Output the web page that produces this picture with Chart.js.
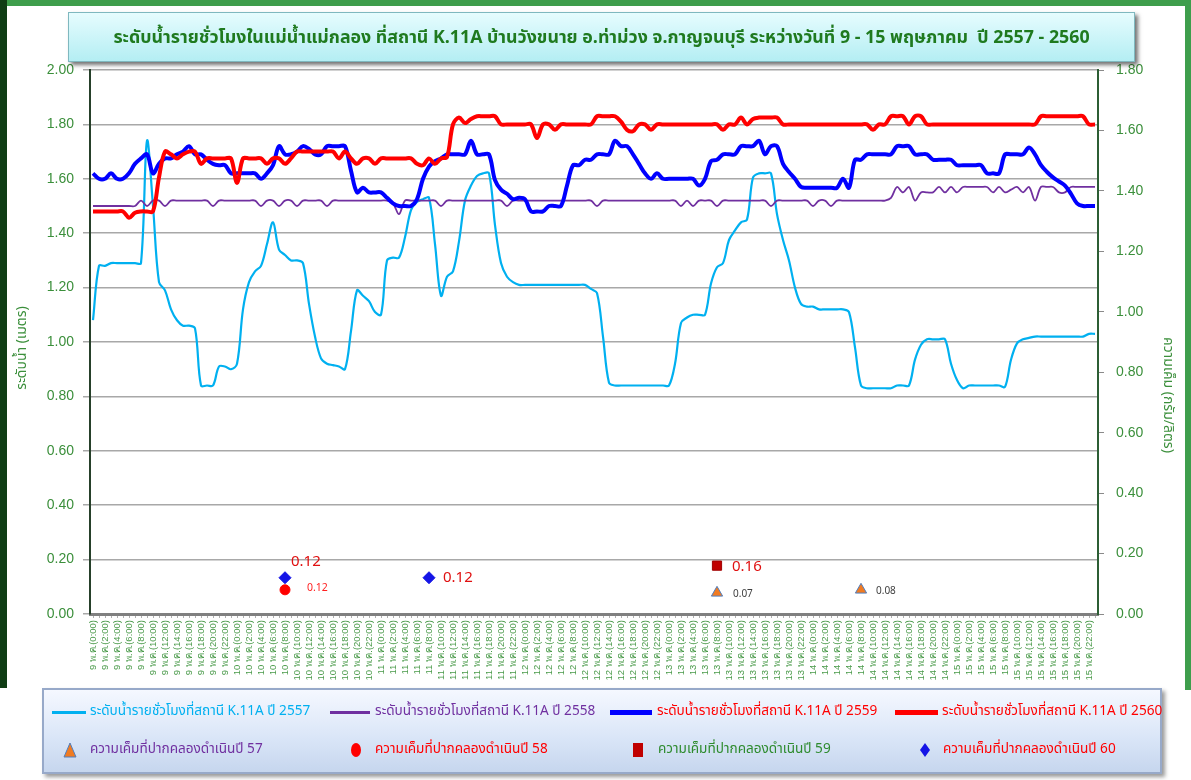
<!DOCTYPE html>
<html lang="th">
<head>
<meta charset="utf-8">
<title>ระดับน้ำรายชั่วโมง K.11A</title>
<script src="https://cdn.jsdelivr.net/npm/chart.js@4.4.1/dist/chart.umd.min.js"></script>
<style>
    html, body { margin: 0; padding: 0; background: #fff; }
    body {
        width: 1191px; height: 780px; position: relative; overflow: hidden;
        font-family: Tahoma, "Noto Sans Thai", "Noto Sans", "DejaVu Sans", sans-serif;
    }
    #frame-left { position: absolute; left: 0; top: 0; width: 7px; height: 688px; background: #0f3d14; }
    #frame-top { position: absolute; left: 0; top: 0; width: 1191px; height: 6px; background: #3e9e4c; }
    #frame-right { position: absolute; right: 0; top: 0; width: 6px; height: 690px; background: #3e9e4c; }
    #chart-box { position: absolute; left: 0; top: 0; width: 1191px; height: 690px; }
    #title {
        position: absolute; left: 68px; top: 12px; width: 1065px; height: 48px;
        background: linear-gradient(#e6fcfe, #b4eef3);
        border: 1px solid #7fb8bf;
        box-shadow: 3px 3px 4px rgba(0, 0, 0, 0.55);
        color: #1f7a1f; font-weight: bold; font-size: 17.8px;
        display: flex; align-items: center; justify-content: center;
    }
    #legend {
        position: absolute; left: 42px; top: 688px; width: 1116px; height: 82px;
        background: linear-gradient(#f5f8ff, #d9e5f7 60%, #c6d6ee);
        border: 2px solid #97a9c9;
        box-shadow: 3px 3px 4px rgba(0, 0, 0, 0.4);
    }
    .lg-abs { position: absolute; }
    .lg-text { position: absolute; font-size: 13.6px; white-space: nowrap; line-height: 20px; }
</style>
</head>
<body>
<div id="frame-top"></div>
<div id="frame-left"></div>
<div id="frame-right"></div>
<div id="chart-box"><canvas id="chart" width="1191" height="690"></canvas></div>
<div id="title">ระดับน้ำรายชั่วโมงในแม่น้ำแม่กลอง ที่สถานี K.11A บ้านวังขนาย อ.ท่าม่วง จ.กาญจนบุรี ระหว่างวันที่ 9 - 15 พฤษภาคม&nbsp; ปี 2557 - 2560</div>
<div id="legend"></div>
<script>
// วันที่ (พ.ค.) และชั่วโมง
const days = [9, 10, 11, 12, 13, 14, 15];
const hours = [0, 1, 2, 3, 4, 5, 6, 7, 8, 9, 10, 11, 12, 13, 14, 15, 16, 17, 18, 19, 20, 21, 22, 23];
const labels = [];
days.forEach(d => hours.forEach(h => labels.push(d + ' พ.ค.(' + h + ':00)')));

// ระดับน้ำ (เมตร) ปี 2557
const level2557 = [
    1.08, 1.28, 1.28, 1.29, 1.29, 1.29, 1.29, 1.29, 1.29, 1.74, 1.50, 1.22,
    1.19, 1.12, 1.08, 1.06, 1.06, 1.05, 0.84, 0.84, 0.84, 0.91, 0.91, 0.90,
    0.92, 1.12, 1.22, 1.26, 1.28, 1.36, 1.44, 1.34, 1.32, 1.30, 1.30, 1.29,
    1.14, 1.02, 0.94, 0.92, 0.915, 0.91, 0.90, 1.04, 1.19, 1.17, 1.15, 1.11,
    1.10, 1.30, 1.31, 1.31, 1.385, 1.485, 1.515, 1.525, 1.53, 1.36, 1.17, 1.24,
    1.26, 1.37, 1.52, 1.575, 1.61, 1.62, 1.62, 1.43, 1.29, 1.24, 1.22, 1.21,
    1.21, 1.21, 1.21, 1.21, 1.21, 1.21, 1.21, 1.21, 1.21, 1.21, 1.21, 1.195,
    1.18, 1.02, 0.85, 0.84, 0.84, 0.84, 0.84, 0.84, 0.84, 0.84, 0.84, 0.84,
    0.84, 0.92, 1.07, 1.09, 1.10, 1.10, 1.10, 1.215, 1.275, 1.29, 1.375, 1.41,
    1.44, 1.45, 1.605, 1.62, 1.62, 1.62, 1.47, 1.375, 1.30, 1.20, 1.14, 1.13,
    1.13, 1.12, 1.12, 1.12, 1.12, 1.12, 1.11, 0.98, 0.84, 0.83, 0.83, 0.83,
    0.83, 0.83, 0.84, 0.84, 0.84, 0.935, 0.99, 1.01, 1.01, 1.01, 1.01, 0.92,
    0.86, 0.83, 0.84, 0.84, 0.84, 0.84, 0.84, 0.84, 0.835, 0.935, 0.995, 1.01,
    1.015, 1.02, 1.02, 1.02, 1.02, 1.02, 1.02, 1.02, 1.02, 1.02, 1.03, 1.03
];
// ปี 2558
const level2558 = [
    1.50, 1.50, 1.50, 1.50, 1.50, 1.50, 1.50, 1.50, 1.52, 1.50, 1.52, 1.52,
    1.50, 1.52, 1.52, 1.52, 1.52, 1.52, 1.52, 1.52, 1.50, 1.52, 1.52, 1.52,
    1.52, 1.52, 1.52, 1.52, 1.50, 1.52, 1.52, 1.50, 1.52, 1.52, 1.50, 1.52,
    1.52, 1.52, 1.52, 1.50, 1.52, 1.52, 1.52, 1.52, 1.52, 1.52, 1.52, 1.52,
    1.52, 1.52, 1.51, 1.47, 1.52, 1.52, 1.52, 1.52, 1.52, 1.52, 1.50, 1.52,
    1.52, 1.52, 1.52, 1.52, 1.52, 1.52, 1.52, 1.52, 1.52, 1.50, 1.52, 1.52,
    1.52, 1.52, 1.52, 1.52, 1.52, 1.52, 1.52, 1.52, 1.52, 1.52, 1.52, 1.52,
    1.50, 1.52, 1.52, 1.52, 1.52, 1.52, 1.52, 1.52, 1.52, 1.52, 1.52, 1.52,
    1.52, 1.52, 1.50, 1.52, 1.50, 1.52, 1.52, 1.52, 1.50, 1.52, 1.52, 1.52,
    1.52, 1.52, 1.52, 1.52, 1.52, 1.50, 1.52, 1.52, 1.52, 1.52, 1.52, 1.52,
    1.50, 1.52, 1.52, 1.50, 1.52, 1.52, 1.52, 1.52, 1.52, 1.52, 1.52, 1.52,
    1.52, 1.53, 1.57, 1.55, 1.57, 1.52, 1.55, 1.55, 1.55, 1.57, 1.55, 1.57,
    1.55, 1.57, 1.57, 1.57, 1.57, 1.57, 1.55, 1.57, 1.55, 1.56, 1.57, 1.55,
    1.57, 1.52, 1.57, 1.57, 1.57, 1.55, 1.55, 1.57, 1.57, 1.57, 1.57, 1.57
];
// ปี 2559
const level2559 = [
    1.62, 1.60, 1.60, 1.62, 1.60, 1.60, 1.62, 1.655, 1.675, 1.69, 1.62, 1.655,
    1.675, 1.675, 1.69, 1.70, 1.72, 1.69, 1.69, 1.67, 1.655, 1.65, 1.65, 1.62,
    1.62, 1.62, 1.62, 1.62, 1.60, 1.62, 1.65, 1.72, 1.69, 1.69, 1.70, 1.72,
    1.71, 1.69, 1.69, 1.72, 1.72, 1.72, 1.72, 1.63, 1.55, 1.567, 1.55, 1.55,
    1.55, 1.53, 1.51, 1.50, 1.50, 1.50, 1.525, 1.60, 1.645, 1.665, 1.675, 1.69,
    1.69, 1.69, 1.69, 1.74, 1.69, 1.69, 1.69, 1.595, 1.56, 1.545, 1.525, 1.53,
    1.525, 1.48, 1.48, 1.48, 1.50, 1.50, 1.50, 1.575, 1.65, 1.65, 1.67, 1.67,
    1.69, 1.69, 1.69, 1.74, 1.72, 1.72, 1.69, 1.655, 1.62, 1.60, 1.62, 1.60,
    1.60, 1.60, 1.60, 1.60, 1.60, 1.575, 1.60, 1.665, 1.67, 1.69, 1.69, 1.69,
    1.72, 1.72, 1.72, 1.74, 1.69, 1.72, 1.72, 1.655, 1.625, 1.60, 1.57, 1.567,
    1.567, 1.567, 1.567, 1.567, 1.567, 1.60, 1.567, 1.67, 1.67, 1.69, 1.69, 1.69,
    1.69, 1.69, 1.72, 1.72, 1.72, 1.69, 1.69, 1.69, 1.67, 1.67, 1.67, 1.67,
    1.65, 1.65, 1.65, 1.65, 1.65, 1.62, 1.62, 1.62, 1.69, 1.69, 1.69, 1.69,
    1.715, 1.69, 1.65, 1.625, 1.605, 1.59, 1.575, 1.545, 1.51, 1.50, 1.50, 1.50
];
// ปี 2560
const level2560 = [
    1.48, 1.48, 1.48, 1.48, 1.48, 1.48, 1.457, 1.475, 1.48, 1.48, 1.48, 1.605,
    1.70, 1.69, 1.675, 1.69, 1.70, 1.70, 1.655, 1.675, 1.675, 1.675, 1.675, 1.675,
    1.585, 1.675, 1.675, 1.675, 1.675, 1.655, 1.675, 1.675, 1.655, 1.675, 1.70, 1.70,
    1.70, 1.70, 1.70, 1.70, 1.70, 1.675, 1.70, 1.675, 1.655, 1.675, 1.675, 1.655,
    1.675, 1.675, 1.675, 1.675, 1.675, 1.675, 1.655, 1.65, 1.675, 1.655, 1.675, 1.68,
    1.80, 1.825, 1.805, 1.82, 1.83, 1.83, 1.83, 1.83, 1.80, 1.80, 1.80, 1.80,
    1.80, 1.80, 1.75, 1.80, 1.80, 1.78, 1.80, 1.80, 1.80, 1.80, 1.80, 1.80,
    1.83, 1.83, 1.83, 1.83, 1.81, 1.78, 1.775, 1.80, 1.80, 1.78, 1.80, 1.80,
    1.80, 1.80, 1.80, 1.80, 1.80, 1.80, 1.80, 1.80, 1.80, 1.78, 1.80, 1.80,
    1.825, 1.80, 1.82, 1.825, 1.825, 1.825, 1.825, 1.80, 1.80, 1.80, 1.80, 1.80,
    1.80, 1.80, 1.80, 1.80, 1.80, 1.80, 1.80, 1.80, 1.80, 1.80, 1.78, 1.80,
    1.80, 1.83, 1.83, 1.83, 1.80, 1.83, 1.83, 1.80, 1.80, 1.80, 1.80, 1.80,
    1.80, 1.80, 1.80, 1.80, 1.80, 1.80, 1.80, 1.80, 1.80, 1.80, 1.80, 1.80,
    1.80, 1.80, 1.83, 1.83, 1.83, 1.83, 1.83, 1.83, 1.83, 1.83, 1.80, 1.80
];

// ความเค็ม (กรัม/ลิตร) ที่ปากคลองดำเนิน  -  เวลาที่วัด / ค่า / ข้อความกำกับ
const salt57Time = ['13 พ.ค.(8:00)', '14 พ.ค.(8:00)'];
const salt57 = [0.07, 0.08];
const salt57Text = ['0.07', '0.08'];
const salt58Time = ['10 พ.ค.(8:00)'];
const salt58 = [0.08];
const salt58Text = ['0.12'];
const salt59Time = ['13 พ.ค.(8:00)'];
const salt59 = [0.16];
const salt59Text = ['0.16'];
const salt60Time = ['10 พ.ค.(8:00)', '11 พ.ค.(8:00)'];
const salt60 = [0.12, 0.12];
const salt60Text = ['0.12', '0.12'];

const leftTicks = { min: 0, max: 2, step: 0.2 };
const rightTicks = { min: 0, max: 1.8, step: 0.2 };

const GREEN = '#3b8f3b';
const toPoints = (times, vals) => times.map((t, i) => ({ x: t, y: vals[i] }));

// ป้ายค่าความเค็ม: ข้อความ, ขนาด, สี, ระยะเลื่อนจากจุด
const pointLabelStyle = {
    s57: { text: salt57Text, size: 10, color: '#404040', dx: [16, 15], dy: [2, 2] },
    s58: { text: salt58Text, size: 10.5, color: '#ff2020', dx: [22], dy: [-1] },
    s59: { text: salt59Text, size: 15, color: '#e01010', dx: [15], dy: [2] },
    s60: { text: salt60Text, size: 15, color: '#e01010', dx: [6, 14], dy: [-15, 1] }
};

const lineSet = (label, data, color, width, order) => ({
    label, data, borderColor: color, backgroundColor: color, borderWidth: width,
    pointRadius: 0, tension: 0.35, yAxisID: 'y', order: order, fill: false
});
const markSet = (key, label, data, style, radius, bg, border) => ({
    key, label, data, showLine: false, pointStyle: style, pointRadius: radius,
    pointBackgroundColor: bg, pointBorderColor: border, pointBorderWidth: 1,
    backgroundColor: bg, borderColor: border, yAxisID: 'y1', order: 0
});

const datasets = [
    lineSet('ระดับน้ำรายชั่วโมงที่สถานี K.11A ปี 2557', level2557, '#00b0f0', 2.2, 4),
    lineSet('ระดับน้ำรายชั่วโมงที่สถานี K.11A ปี 2558', level2558, '#7030a0', 1.8, 3),
    lineSet('ระดับน้ำรายชั่วโมงที่สถานี K.11A ปี 2559', level2559, '#0000ff', 4, 2),
    lineSet('ระดับน้ำรายชั่วโมงที่สถานี K.11A ปี 2560', level2560, '#ff0000', 4, 1),
    markSet('s57', 'ความเค็มที่ปากคลองดำเนินปี 57', toPoints(salt57Time, salt57), 'triangle', 6.5, '#f07b22', '#4f7fc0'),
    markSet('s58', 'ความเค็มที่ปากคลองดำเนินปี 58', toPoints(salt58Time, salt58), 'circle', 5, '#ff0000', '#ff0000'),
    markSet('s59', 'ความเค็มที่ปากคลองดำเนินปี 59', toPoints(salt59Time, salt59), 'rect', 6.5, '#c00000', '#a00000'),
    markSet('s60', 'ความเค็มที่ปากคลองดำเนินปี 60', toPoints(salt60Time, salt60), 'rectRot', 6, '#1414e6', '#1414e6')
];

// วาดป้ายค่า + ชื่อแกน
const extrasPlugin = {
    id: 'extras',
    afterDatasetsDraw(chart) {
        const ctx = chart.ctx;
        ctx.save();
        chart.data.datasets.forEach((ds, di) => {
            const st = pointLabelStyle[ds.key];
            if (!st) return;
            const meta = chart.getDatasetMeta(di);
            meta.data.forEach((pt, i) => {
                ctx.font = st.size + 'px Tahoma, "Noto Sans Thai", "Noto Sans", sans-serif';
                ctx.fillStyle = st.color;
                ctx.textAlign = 'left';
                ctx.textBaseline = 'middle';
                ctx.fillText(st.text[i], pt.x + st.dx[i], pt.y + st.dy[i]);
            });
        });
        // ชื่อแกน
        ctx.fillStyle = GREEN;
        ctx.font = '14px Tahoma, "Noto Sans Thai", "Noto Sans", sans-serif';
        ctx.textAlign = 'center';
        ctx.textBaseline = 'middle';
        ctx.save();
        ctx.translate(23, 348);
        ctx.rotate(-Math.PI / 2);
        ctx.fillText('ระดับน้ำ (เมตร)', 0, 0);
        ctx.restore();
        ctx.save();
        ctx.translate(1167, 395);
        ctx.rotate(Math.PI / 2);
        ctx.fillText('ความเค็ม (กรัม/ลิตร)', 0, 0);
        ctx.restore();
        ctx.restore();
    }
};

const fmt2 = v => Number(v).toFixed(2);

new Chart(document.getElementById('chart'), {
    type: 'line',
    data: { labels: labels, datasets: datasets },
    plugins: [extrasPlugin],
    options: {
        responsive: false,
        animation: false,
        devicePixelRatio: 1,
        layout: { padding: { top: 70, left: 0, right: 0, bottom: 0 } },
        plugins: { legend: { display: false }, tooltip: { enabled: false } },
        scales: {
            x: {
                type: 'category',
                offset: true,
                grid: { display: true, drawOnChartArea: false, tickLength: 4, color: '#b0b0b0' },
                border: { color: '#808080', width: 3 },
                ticks: {
                    autoSkip: false, maxRotation: 90, minRotation: 90, padding: 2,
                    color: '#4a9a4a', font: { size: 9.5 },
                    callback: function (value, index) {
                        return index % 2 === 0 ? this.getLabelForValue(value) : '';
                    }
                },
                afterFit: s => { s.height = 76; }
            },
            y: {
                position: 'left',
                min: leftTicks.min, max: leftTicks.max,
                grid: { color: '#a8a8a8', lineWidth: 1.5, tickLength: 7 },
                border: { color: '#26402a', width: 2 },
                ticks: { stepSize: leftTicks.step, padding: 9, color: GREEN, font: { size: 14 }, callback: fmt2 },
                afterFit: s => { s.width = 90; }
            },
            y1: {
                position: 'right',
                min: rightTicks.min, max: rightTicks.max,
                grid: { drawOnChartArea: false, color: '#8a8a8a', tickLength: 6 },
                border: { color: '#2c5e34', width: 2 },
                ticks: { stepSize: rightTicks.step, padding: 12, color: GREEN, font: { size: 14 }, callback: fmt2 },
                afterFit: s => { s.width = 93; }
            }
        }
    }
});

// คำอธิบายสัญลักษณ์ (legend) สร้างจาก datasets
const legendText = ['#00b0f0', '#7030a0', '#ff0000', '#ff0000', '#7030a0', '#ff0000', '#2e8b2e', '#ff0000'];
const legendLineX = [52, 330, 610, 895];
const legendLineW = [34, 40, 42, 43];
const legendMarkX = [70, 356, 638, 925];
const legendTextX = [90, 375, 657, 942, 90, 375, 658, 943];
const legendOrigin = { x: 44, y: 690 };
const legendEl = document.getElementById('legend');

function addEl(html) {
    const wrap = document.createElement('div');
    wrap.innerHTML = html;
    legendEl.appendChild(wrap.firstChild);
}

datasets.forEach((ds, i) => {
    const row = i < 4 ? 0 : 1;
    const col = i % 4;
    const cy = (row ? 750 : 712) - legendOrigin.y;
    if (row === 0) {
        const h = i < 2 ? 3 : 5;
        addEl('<div class="lg-abs" style="left:' + (legendLineX[col] - legendOrigin.x) + 'px;top:' + (cy - h / 2) +
            'px;width:' + legendLineW[col] + 'px;height:' + h + 'px;background:' + ds.borderColor + '"></div>');
    } else {
        const mx = legendMarkX[col] - legendOrigin.x - 7;
        let shape;
        if (ds.pointStyle === 'triangle') {
            shape = '<polygon points="7,1 13,15 1,15" fill="' + ds.backgroundColor + '" stroke="' + ds.borderColor + '"/>';
        } else if (ds.pointStyle === 'circle') {
            shape = '<ellipse cx="7" cy="8" rx="5" ry="7" fill="' + ds.backgroundColor + '"/>';
        } else if (ds.pointStyle === 'rect') {
            shape = '<rect x="2" y="1" width="10" height="14" fill="' + ds.backgroundColor + '"/>';
        } else {
            shape = '<polygon points="7,1 12,8 7,15 2,8" fill="' + ds.backgroundColor + '"/>';
        }
        addEl('<svg class="lg-abs" style="left:' + mx + 'px;top:' + (cy - 8) + 'px" width="14" height="16">' + shape + '</svg>');
    }
    addEl('<div class="lg-text" style="left:' + (legendTextX[i] - legendOrigin.x) + 'px;top:' + (cy - 11) +
        'px;color:' + legendText[i] + '">' + ds.label + '</div>');
});
</script>
</body>
</html>
